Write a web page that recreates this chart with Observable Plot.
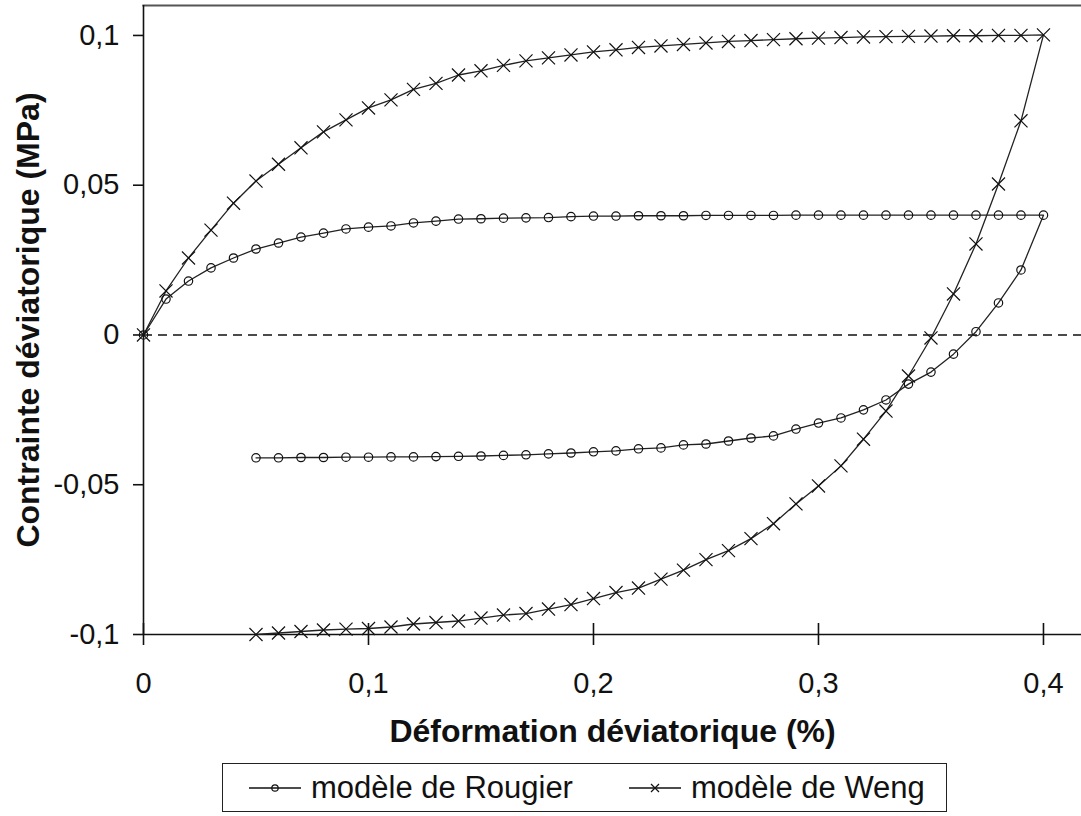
<!DOCTYPE html>
<html><head><meta charset="utf-8">
<script src="https://cdn.jsdelivr.net/npm/d3@7"></script>
<script src="https://cdn.jsdelivr.net/npm/@observablehq/plot@0.6"></script>
<style>
body{margin:0;background:#fff;font-family:"Liberation Sans",Arial,sans-serif;}
#chart svg{display:block;}
#legend{position:relative;margin-left:222px;margin-top:3px;width:723px;height:47px;border:1.5px solid #222;background:#fff;}
#legend .item{position:absolute;top:0;height:47px;display:flex;align-items:center;font-size:31px;color:#111;white-space:nowrap;}
#legend svg{margin-right:10px;}
</style></head><body>
<div id="chart"></div>
<div id="legend"></div>
<script>
// strain values (%)
const strainLoad = [0,0.01,0.02,0.03,0.04,0.05,0.06,0.07,0.08,0.09,0.10,0.11,0.12,0.13,0.14,0.15,0.16,0.17,0.18,0.19,0.20,0.21,0.22,0.23,0.24,0.25,0.26,0.27,0.28,0.29,0.30,0.31,0.32,0.33,0.34,0.35,0.36,0.37,0.38,0.39,0.40];
const strainUnload = [0.39,0.38,0.37,0.36,0.35,0.34,0.33,0.32,0.31,0.30,0.29,0.28,0.27,0.26,0.25,0.24,0.23,0.22,0.21,0.20,0.19,0.18,0.17,0.16,0.15,0.14,0.13,0.12,0.11,0.10,0.09,0.08,0.07,0.06,0.05];
// deviatoric stress (MPa)
const rougierLoad = [0,0.0120,0.0180,0.0224,0.0257,0.0287,0.0307,0.0327,0.0340,0.0354,0.0360,0.0364,0.0374,0.0380,0.0387,0.0388,0.0390,0.0391,0.0392,0.0395,0.0397,0.0397,0.0398,0.0398,0.0398,0.0399,0.0399,0.0399,0.0399,0.0400,0.0400,0.0400,0.0400,0.0400,0.0400,0.0400,0.0400,0.0400,0.0400,0.0400,0.0400];
const rougierUnload = [0.0217,0.0107,0.0011,-0.0064,-0.0124,-0.0164,-0.0217,-0.0250,-0.0277,-0.0294,-0.0314,-0.0337,-0.0344,-0.0354,-0.0364,-0.0367,-0.0377,-0.0380,-0.0387,-0.0390,-0.0394,-0.0397,-0.0400,-0.0402,-0.0404,-0.0405,-0.0406,-0.0407,-0.0407,-0.0408,-0.0408,-0.0409,-0.0409,-0.0410,-0.0410];
const wengLoad = [0,0.0147,0.0257,0.0350,0.0440,0.0514,0.0570,0.0625,0.0678,0.0718,0.0758,0.0785,0.0820,0.0840,0.0868,0.0882,0.0900,0.0915,0.0925,0.0935,0.0945,0.0952,0.0960,0.0965,0.0970,0.0975,0.0980,0.0983,0.0986,0.0989,0.0991,0.0993,0.0995,0.0996,0.0997,0.0998,0.0999,0.0999,0.1000,0.1000,0.1002];
const wengUnload = [0.0715,0.0504,0.0304,0.0137,-0.0010,-0.0137,-0.0254,-0.0348,-0.0437,-0.0504,-0.0564,-0.0630,-0.0680,-0.0720,-0.0750,-0.0785,-0.0815,-0.0845,-0.0860,-0.0880,-0.0900,-0.0915,-0.0930,-0.0935,-0.0945,-0.0955,-0.0960,-0.0965,-0.0975,-0.0980,-0.0982,-0.0985,-0.0990,-0.0995,-0.1000];
const xTicks = [0,0.1,0.2,0.3,0.4];
const yTicks = [-0.1,-0.05,0,0.05,0.1];
const xLabel = "Déformation déviatorique (%)";
const yLabel = "Contrainte déviatorique (MPa)";
const seriesNames = ["modèle de Rougier","modèle de Weng"];

const build = (name, load, unload) => [
  ...strainLoad.map((x,i)=>({model:name,x,y:load[i]})),
  ...strainUnload.map((x,i)=>({model:name,x,y:unload[i]}))
];
const rougier = build(seriesNames[0], rougierLoad, rougierUnload);
const weng = build(seriesNames[1], wengLoad, wengUnload);
const fmt = d => String(d).replace(".", ",");
const FONT = "'Liberation Sans', Arial, sans-serif";

const plot = Plot.plot({
  width:1081, height:760,
  marginLeft:143, marginRight:0, marginTop:5, marginBottom:126,
  style:{fontFamily:FONT, fontSize:"28px", color:"#111", background:"white", overflow:"visible"},
  x:{domain:[0,0.4169]},
  y:{domain:[-0.1,0.11]},
  marks:[
    Plot.frame({anchor:"top", stroke:"#555", strokeWidth:2.2}),
    Plot.ruleY([0], {stroke:"#111", strokeWidth:1.4, strokeDasharray:"9,6"}),
    Plot.ruleY([-0.1], {stroke:"#111", strokeWidth:1.6}),
    Plot.ruleX([0], {stroke:"#111", strokeWidth:1.6}),
    Plot.ruleX(xTicks, {y1:-0.1, y2:-0.1, insetTop:-11, insetBottom:-11, stroke:"#111", strokeWidth:1.6}),
    Plot.axisY({ticks:yTicks, tickSize:10, tickPadding:14, tickFormat:fmt, label:null, stroke:"#111", strokeWidth:1.6, fontSize:29}),
    Plot.axisX({ticks:xTicks, tickSize:0, tickPadding:38, tickFormat:fmt, label:null, fontSize:29}),
    Plot.line(rougier, {x:"x", y:"y", stroke:"#222", strokeWidth:1.3}),
    Plot.line(weng, {x:"x", y:"y", stroke:"#222", strokeWidth:1.3}),
    Plot.dot(rougier, {x:"x", y:"y", r:4.2, symbol:"circle", stroke:"#111", fill:"none", strokeWidth:1.2}),
    Plot.dot(weng, {x:"x", y:"y", r:6, symbol:"times", stroke:"#111", strokeWidth:1.2}),
    Plot.text([xLabel], {text:d=>d, frameAnchor:"bottom", textAnchor:"middle", dy:107, fontSize:32, fontWeight:"bold", fill:"#111"}),
    Plot.text([yLabel], {text:d=>d, frameAnchor:"left", textAnchor:"middle", dx:-115, rotate:-90, fontSize:32, fontWeight:"bold", fill:"#111"})
  ]
});
document.getElementById("chart").appendChild(plot);

// legend
const legend = document.getElementById("legend");
const symbols = [
  '<circle cx="26" cy="12" r="3.2" fill="none" stroke="#111" stroke-width="1.2"/>',
  '<path d="M22,8L30,16M30,8L22,16" stroke="#111" stroke-width="1.2"/>'
];
const lefts = [26, 406];
seriesNames.forEach((name,i)=>{
  const el = document.createElement("div");
  el.className = "item";
  el.style.left = lefts[i] + "px";
  el.innerHTML = `<svg width="52" height="24"><line x1="0" x2="52" y1="12" y2="12" stroke="#111" stroke-width="1.4"/>${symbols[i]}</svg><span>${name}</span>`;
  legend.appendChild(el);
});
</script>
</body></html>
